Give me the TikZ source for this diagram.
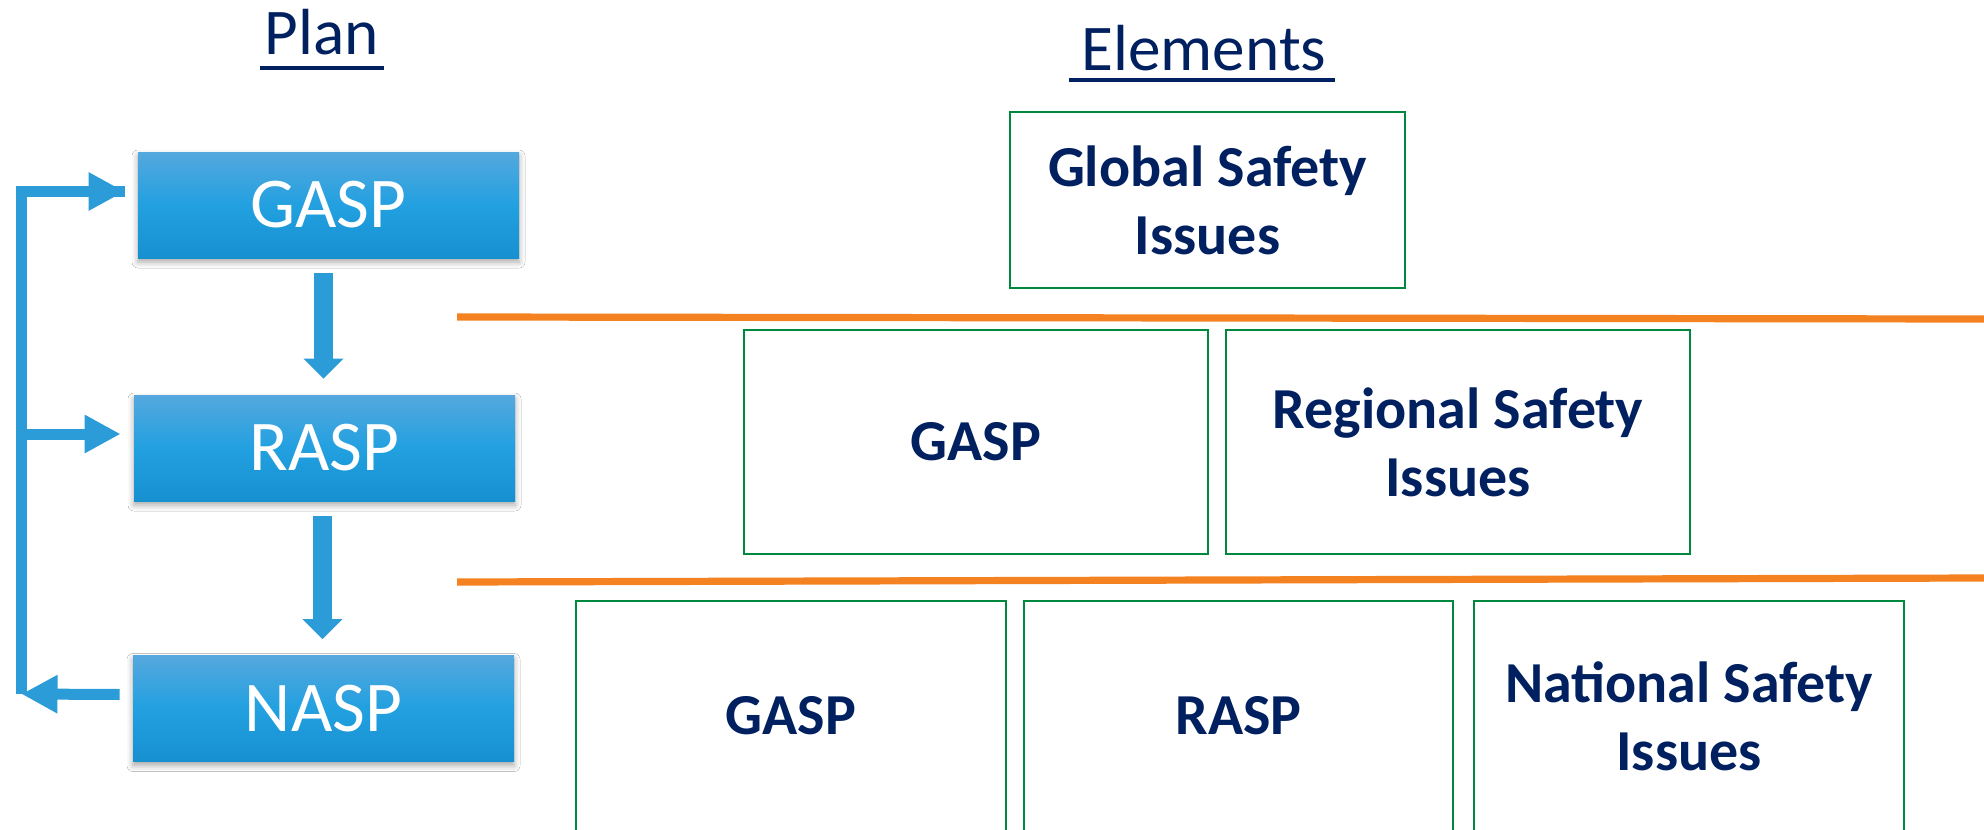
\documentclass[tikz,border=0pt]{standalone}
\usepackage{fontspec}
\setmainfont{Carlito}
\usetikzlibrary{arrows.meta,shadows.blur,calc}
\definecolor{navy}{HTML}{002060}
\definecolor{boxgreen}{HTML}{00893E}
\definecolor{sepor}{HTML}{F58220}
\definecolor{arrowblue}{HTML}{2B9CD8}
\definecolor{btop}{HTML}{55A8DE}
\definecolor{bmid}{HTML}{22A0E0}
\definecolor{bbot}{HTML}{1790D0}
\begin{document}
\begin{tikzpicture}[x=0.5pt,y=-0.5pt,
  planbox/.style={minimum width=190.5pt, minimum height=53pt, inner sep=0pt,
    text=white, font=\fontsize{35.7}{40}\selectfont,
    top color=btop, bottom color=bbot, middle color=bmid,
    blur shadow={shadow xshift=0pt, shadow yshift=-2pt, shadow opacity=35, shadow blur radius=3pt}},
  elembox/.style={draw=boxgreen, line width=1.4pt, inner sep=0pt, align=center,
    text=navy, font=\bfseries\fontsize{29}{34}\selectfont},
  titletext/.style={inner sep=0pt, text=navy, font=\fontsize{32.6}{36}\selectfont},
  titleline/.style={draw=navy, line width=2pt},
  seprule/.style={draw=sepor, line width=3.6pt},
  downarrow/.style={draw=arrowblue, line width=9.5pt,
    -{Triangle[width=19.5pt,length=10pt]}, shorten <=7.5pt, shorten >=8pt},
  sidearrow/.style={draw=arrowblue, line width=5.5pt, line join=miter,
    -{Triangle[width=18pt,length=18pt]}},
  sideline/.style={draw=arrowblue, line width=5.5pt, line join=miter}
]
\useasboundingbox (0,0) rectangle (1984,829);
\fill[white] (0,0) rectangle (1984,829);

% titles
\node[titletext, anchor=base] (plan) at (322,55) {Plan};
\draw[titleline] (260,68) -- (384,68);
\node[titletext, anchor=base] (elements) at (1204,71) {Elements};
\draw[titleline] (1069,80) -- (1335,80);

% separators
\draw[seprule] (457,317) -- (1984,319);
\draw[seprule] (457,582) -- (1984,578);

% plan boxes
\node[planbox] (gasp) at (328.5,205) {GASP};
\node[planbox] (rasp) at (324.5,448) {RASP};
\node[planbox] (nasp) at (323.5,708.5) {NASP};

% down arrows
\draw[downarrow] ([xshift=-2.5pt]gasp.south) -- ([xshift=-2.5pt]gasp.south |- rasp.north);
\draw[downarrow] ([xshift=-1pt]rasp.south) -- ([xshift=-1pt]rasp.south |- nasp.north);

% feedback loop
\coordinate (gtip) at ([xshift=-6.5pt,yshift=6.75pt]gasp.west);
\coordinate (rtip) at ([xshift=-6.5pt,yshift=7pt]rasp.west);
\coordinate (nstart) at ([xshift=-6.5pt,yshift=7pt]nasp.west);
\coordinate (lbot) at (21.5,694);
\draw[sideline] (lbot) -- (lbot |- gtip) -- (gtip);
\draw[sidearrow] ([xshift=-9pt]gtip) -- (gtip);
\draw[sidearrow] (lbot |- rtip) -- (rtip);
\draw[sidearrow] (nstart) -- (lbot);

% element boxes
\node[elembox, minimum width=197.5pt, minimum height=88pt] (global) at (1207.5,200) {Global Safety\\Issues};
\node[elembox, minimum width=232pt, minimum height=112pt] (gaspB) at (976,442) {GASP};
\node[elembox, minimum width=232pt, minimum height=112pt] (regional) at (1458,442) {Regional Safety\\Issues};
\node[elembox, minimum width=215pt, minimum height=115pt] (gaspC) at (791,716) {GASP};
\node[elembox, minimum width=214.5pt, minimum height=115pt] (raspC) at (1238.5,716) {RASP};
\node[elembox, minimum width=215pt, minimum height=115pt] (national) at (1689,716) {National Safety\\Issues};
\end{tikzpicture}
\end{document}
